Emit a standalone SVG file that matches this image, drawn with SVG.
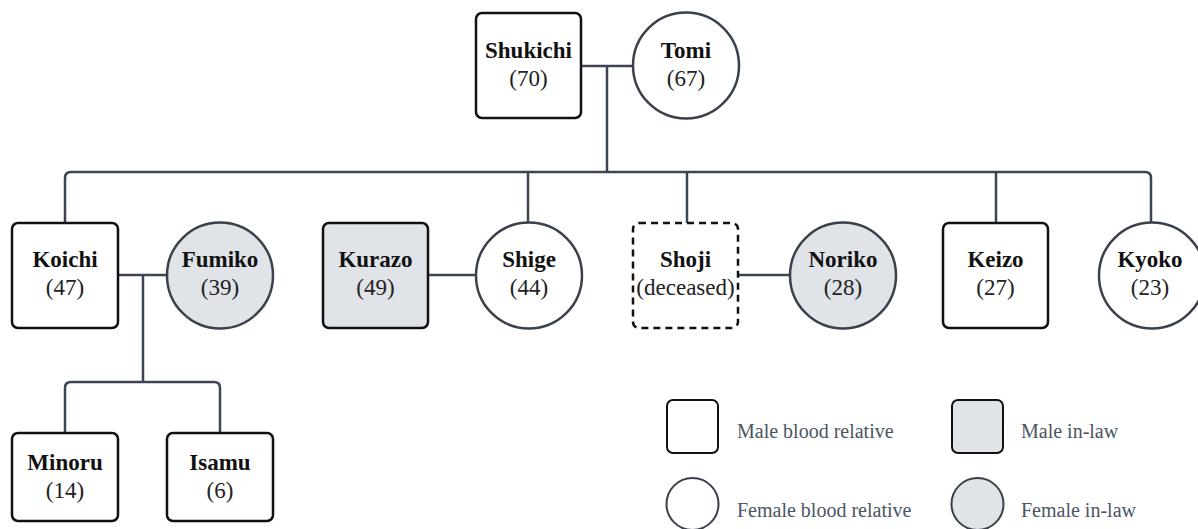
<svg xmlns="http://www.w3.org/2000/svg" width="1198" height="529" viewBox="0 0 1198 529">
<style>
.m{fill:#ffffff;stroke:#111111;stroke-width:2.5}
.f{fill:#ffffff;stroke:#3a414b;stroke-width:2.5}
.g{fill:#e0e3e8}
.d{fill:#ffffff;stroke:#111111;stroke-width:2.5;stroke-dasharray:7 5}
.n{font-family:"Liberation Serif",serif;font-weight:bold;font-size:23px;fill:#111111;text-anchor:middle}
.a{font-family:"Liberation Serif",serif;font-size:23px;fill:#222222;text-anchor:middle}
.l{font-family:"Liberation Serif",serif;font-size:20px;fill:#4b5563}
.c{fill:none;stroke:#3d4550;stroke-width:2.5}
</style>
<rect width="1198" height="529" fill="#ffffff"/>
<g id="connectors">
<path class="c" d="M581,66 H633"/>
<path class="c" d="M607,66 V172"/>
<path class="c" d="M65,223 V178 Q65,172 71,172 H1145 Q1151,172 1151,178 V223"/>
<path class="c" d="M528,172 V223"/>
<path class="c" d="M687,172 V223"/>
<path class="c" d="M996,172 V223"/>
<path class="c" d="M118,275 H167"/>
<path class="c" d="M143,275 V382"/>
<path class="c" d="M65,433 V388 Q65,382 71,382 H214 Q220,382 220,388 V433"/>
<path class="c" d="M428,275 H476"/>
<path class="c" d="M738,275 H790"/>
</g>
<g id="shukichi"><rect class="m" x="476" y="13" width="105" height="105" rx="6"/><text class="n" x="528.5" y="58">Shukichi</text><text class="a" x="528.5" y="86">(70)</text></g>
<g id="tomi"><circle class="f" cx="686" cy="65.5" r="53"/><text class="n" x="686" y="58">Tomi</text><text class="a" x="686" y="86">(67)</text></g>
<g id="koichi"><rect class="m" x="12" y="223" width="106" height="105" rx="6"/><text class="n" x="65" y="267">Koichi</text><text class="a" x="65" y="295">(47)</text></g>
<g id="fumiko"><circle class="f g" cx="220" cy="275.5" r="53"/><text class="n" x="220" y="267">Fumiko</text><text class="a" x="220" y="295">(39)</text></g>
<g id="kurazo"><rect class="m g" x="323" y="223" width="105" height="105" rx="6"/><text class="n" x="375.5" y="267">Kurazo</text><text class="a" x="375.5" y="295">(49)</text></g>
<g id="shige"><circle class="f" cx="529" cy="275.5" r="53"/><text class="n" x="529" y="267">Shige</text><text class="a" x="529" y="295">(44)</text></g>
<g id="shoji"><rect class="d" x="633" y="223" width="105" height="105" rx="6"/><text class="n" x="685.5" y="267">Shoji</text><text class="a" x="685.5" y="295">(deceased)</text></g>
<g id="noriko"><circle class="f g" cx="843" cy="275.5" r="53"/><text class="n" x="843" y="267">Noriko</text><text class="a" x="843" y="295">(28)</text></g>
<g id="keizo"><rect class="m" x="943" y="223" width="105" height="105" rx="6"/><text class="n" x="995.5" y="267">Keizo</text><text class="a" x="995.5" y="295">(27)</text></g>
<g id="kyoko"><circle class="f" cx="1152" cy="275.5" r="53"/><text class="n" x="1150" y="267">Kyoko</text><text class="a" x="1150" y="295">(23)</text></g>
<g id="minoru"><rect class="m" x="12" y="433" width="106" height="88" rx="6"/><text class="n" x="65" y="470">Minoru</text><text class="a" x="65" y="498">(14)</text></g>
<g id="isamu"><rect class="m" x="167" y="433" width="106" height="88" rx="6"/><text class="n" x="220" y="470">Isamu</text><text class="a" x="220" y="498">(6)</text></g>
<g id="legend">
<rect class="m" x="667" y="400" width="51" height="53" rx="6" style="stroke-width:2"/>
<text class="l" x="737" y="438">Male blood relative</text>
<rect class="m g" x="952" y="400" width="51" height="53" rx="6" style="stroke-width:2"/>
<text class="l" x="1021" y="438">Male in-law</text>
<circle class="f" cx="692.5" cy="504" r="26" style="stroke-width:2"/>
<text class="l" x="737" y="517">Female blood relative</text>
<circle class="f g" cx="977.5" cy="504" r="26" style="stroke-width:2"/>
<text class="l" x="1021" y="517">Female in-law</text>
</g>
</svg>
